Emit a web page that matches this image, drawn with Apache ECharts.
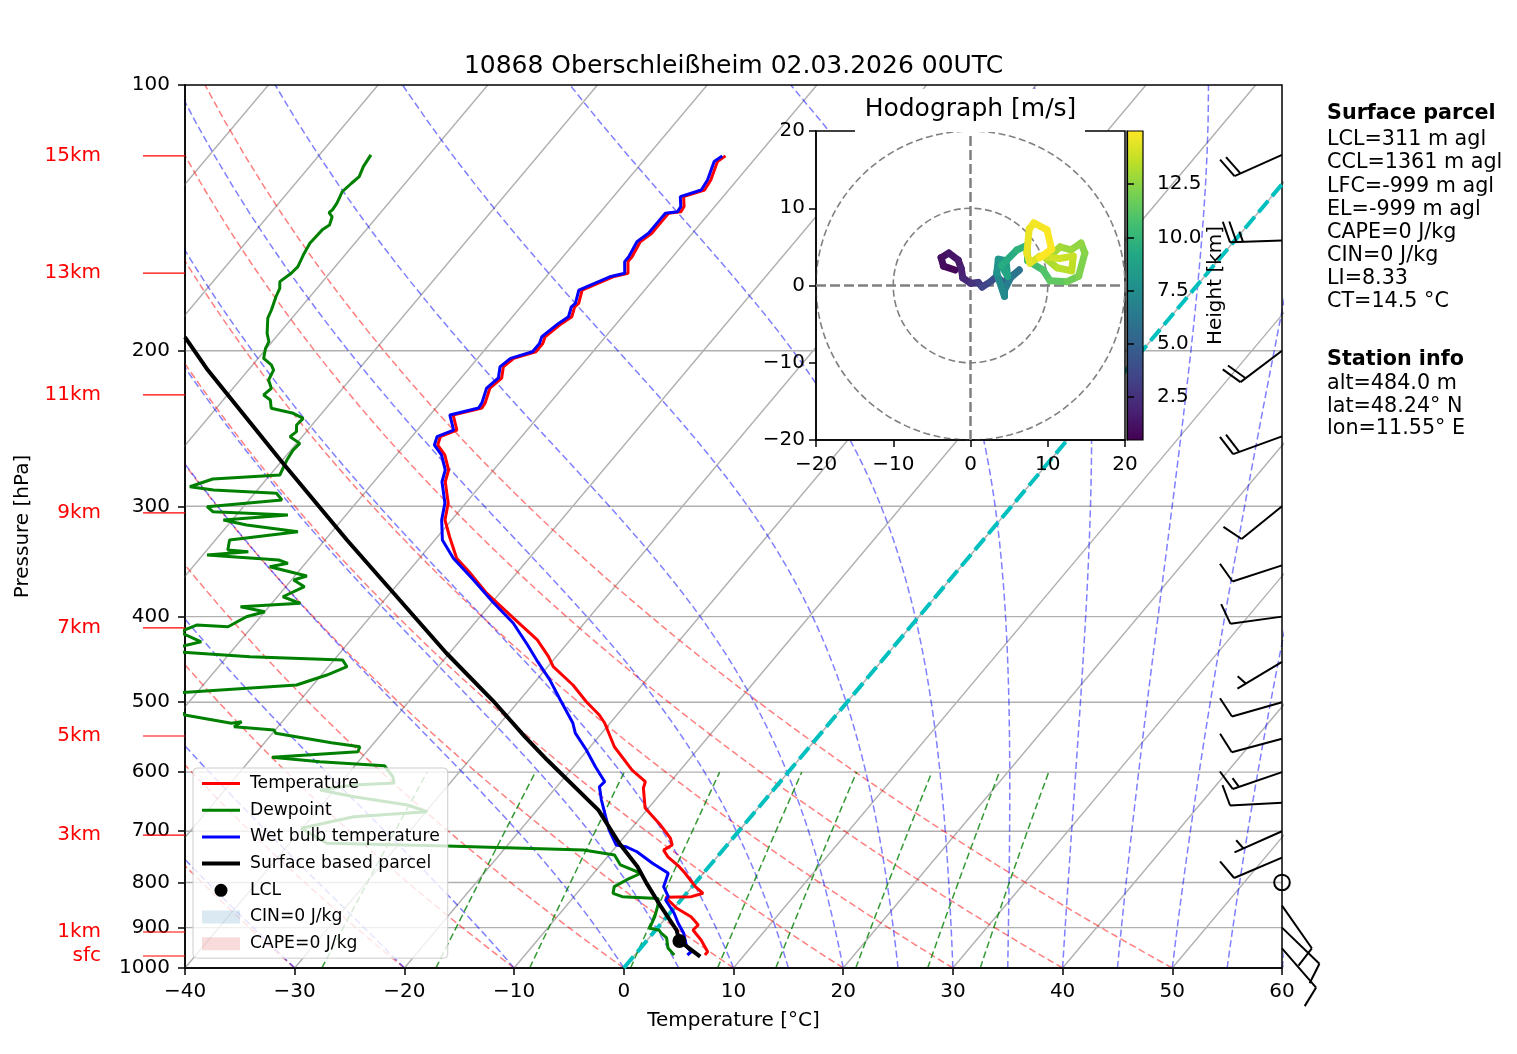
<!DOCTYPE html>
<html>
<head>
<meta charset="utf-8">
<script src="https://cdn.jsdelivr.net/npm/echarts@6/dist/echarts.min.js"></script>
<style>
html, body { margin: 0; padding: 0; background: #fff; }
#chart { width: 1517px; height: 1054px; }
</style>
</head>
<body>
<div id="chart"></div>
<script>
// sounding 10868 Oberschleissheim (hPa / degC)
var tempP = [120.3,122.1,128.1,131.5,133.8,137.3,139.2,139.7,142.8,147.2,150.5,156.5,158.5,163.4,164.9,170.7,176.7,178.3,183.0,186.2,192.8,196.2,200.5,204.0,208.6,214.7,220.4,229.1,232.2,236.4,245.9,250.2,255.7,262.4,272.9,281.4,297.5,310.9,324.8,343.6,357.3,376.3,401.8,425.1,444.0,455.8,478.1,499.4,517.0,527.9,561.6,596.8,615.2,625.3,659.0,688.8,712.6,725.7,735.3,748.2,767.9,780.6,808.9,823.0,830.2,831.6,855.1,874.8,893.9,905.7,929.6,958.5,966.7];
var tempT = [-52.9,-53.2,-52.4,-52.2,-53.6,-52.8,-52.7,-53.7,-53.7,-53.7,-54.1,-53.7,-53.7,-52.8,-53.9,-55.7,-55.0,-55.1,-54.6,-55.0,-55.5,-55.2,-55.2,-56.7,-57.0,-56.3,-56.6,-55.9,-55.8,-57.9,-56.4,-57.4,-57.0,-55.6,-54.1,-53.5,-51.6,-50.6,-48.9,-46.6,-44.2,-41.2,-36.8,-33.0,-30.7,-29.5,-26.3,-23.8,-21.6,-20.5,-17.8,-14.4,-12.3,-12.0,-10.3,-7.6,-5.7,-5.0,-5.4,-4.5,-2.7,-1.7,0.3,1.5,0.7,-1.6,0.2,2.2,3.5,3.4,4.9,6.4,6.4];

var wetP = [120.3,122.1,128.1,131.5,133.8,137.3,139.2,139.7,142.8,147.2,150.5,156.5,158.5,163.4,164.9,170.7,176.7,178.3,183.0,186.2,192.8,196.2,200.5,204.0,208.6,214.7,220.4,229.1,232.2,236.4,245.9,250.2,255.7,262.4,272.9,281.4,297.5,310.9,327.6,343.6,363.6,384.8,406.7,430.7,449.9,471.8,497.2,527.9,542.0,566.4,591.6,615.2,623.3,645.3,671.1,697.8,725.7,728.9,738.5,761.1,781.1,808.9,830.2,837.5,867.0,889.2,913.4,946.0,958.5,966.7];
var wetT = [-53.2,-53.5,-52.7,-52.5,-53.9,-53.1,-53.0,-54.0,-54.0,-54.0,-54.4,-54.0,-54.0,-53.1,-54.2,-56.0,-55.3,-55.4,-54.9,-55.3,-55.8,-55.5,-55.5,-57.0,-57.3,-56.6,-56.9,-56.2,-56.1,-58.2,-56.7,-57.7,-57.3,-55.9,-54.4,-53.8,-51.9,-50.9,-49.3,-46.9,-43.4,-40.0,-36.5,-33.5,-31.3,-28.8,-26.3,-23.4,-22.4,-20.1,-18.0,-16.0,-16.1,-14.9,-13.4,-11.9,-10.1,-9.1,-7.7,-5.4,-3.2,-2.6,-1.4,-1.4,0.4,1.5,2.8,4.1,4.9,4.8];

var dewP = [120.0,123.7,127.0,129.2,132.1,136.1,138.5,139.5,141.0,144.1,145.9,151.1,155.8,160.6,163.4,167.0,169.9,173.7,179.8,183.7,191.1,195.3,198.7,204.0,207.5,210.3,215.8,220.6,224.4,227.4,232.3,235.4,238.5,242.7,246.9,250.2,254.6,259.1,265.9,276.5,279.4,285.1,287.5,290.0,295.1,300.3,304.2,306.9,310.9,315.0,320.6,327.6,336.2,337.7,340.7,345.1,348.1,351.2,359.8,363.6,370.0,379.8,386.4,389.8,394.9,400.1,410.7,408.9,416.5,427.1,433.1,438.7,444.0,448.0,455.8,465.8,478.1,488.2,503.8,517.0,528.3,526.0,533.0,537.6,542.3,555.7,561.6,568.9,577.3,584.0,590.1,607.3,617.3,620.6,628.6,639.7,653.7,665.3,674.1,694.7,722.5,727.5,735.3,744.7,764.3,781.1,794.9,808.9,823.0,830.2,834.0,848.8,874.8,901.6,905.7,912.6,924.6,949.3,966.7];
var dewT = [-85.3,-85.1,-84.7,-84.9,-85.1,-84.7,-84.6,-84.7,-84.1,-83.7,-84.0,-84.1,-83.8,-83.4,-83.5,-83.9,-83.4,-83.1,-82.5,-82.2,-81.1,-80.3,-80.1,-79.5,-78.3,-77.7,-77.4,-76.5,-76.7,-75.7,-75.0,-72.6,-71.3,-71.4,-70.9,-71.1,-69.7,-69.8,-69.6,-69.1,-74.9,-76.4,-74.0,-68.0,-67.0,-73.3,-72.4,-65.3,-70.8,-68.3,-63.1,-68.7,-68.1,-66.1,-69.6,-62.7,-61.6,-63.0,-58.9,-59.8,-58.3,-59.5,-57.4,-62.6,-60.0,-61.3,-62.2,-65.2,-66.2,-63.5,-65.2,-64.7,-57.9,-49.2,-48.3,-49.5,-51.5,-62.0,-61.3,-59.4,-54.5,-53.7,-54.0,-50.1,-49.7,-43.9,-41.0,-40.8,-48.2,-43.5,-37.3,-35.7,-35.1,-38.6,-41.3,-37.7,-32.2,-29.9,-36.2,-40.1,-36.6,-25.5,-12.7,-9.5,-8.2,-5.7,-6.5,-7.1,-6.7,-5.6,-2.2,-1.7,-1.1,-0.7,0.3,0.7,1.6,2.5,3.6];

var parcelP = [193.0,210.3,265.9,327.6,376.1,439.8,497.2,547.3,581.4,662.5,721.8,767.9,801.9,852.3,905.7,931.9,970.9];
var parcelT = [-88.3,-83.7,-70.2,-58.0,-49.7,-40.3,-32.5,-26.7,-22.9,-14.4,-10.0,-6.5,-4.4,-1.3,1.9,3.0,6.1];

var lclP = [931.9];
var lclT = [3.0];

// wind barbs: pressure, direction (deg, from), speed (kt)
var barbP = [120,150,200,250,300,350,400,450,500,550,600,650,700,750,800,850,900,950];
var barbDir = [246,268,233,250,231,252,262,239,254,255,251,267,246,247,0,145,134,139];
var barbSpd = [20,25,20,20,10,10,10,5,10,10,15,10,5,10,0,10,10,10];

// height marks on the left
var heightLbl = ['15km','13km','11km','9km','7km','5km','3km','1km','sfc'];
var heightP = [120.3,163.3,224.4,305.2,412.0,546.1,707.0,910.4,969.2];

// hodograph (m/s) with height (km)
var hodoU = [-2.0,-3.5,-3.8,-2.8,-1.6,-1.2,-1.0,0.0,1.0,1.5,2.6,3.4,4.2,5.6,6.3,5.2,4.4,4.4,3.4,3.6,4.6,4.8,4.0,6.0,7.3,7.4,9.4,10.3,12.5,14.0,14.8,14.3,13.0,11.6,9.9,11.2,13.1,13.3,11.5,9.0,7.7,7.3,7.6,8.2,9.9,10.5,9.0];
var hodoV = [2.0,2.5,3.6,4.2,3.3,2.2,1.0,0.3,0.4,-0.2,0.5,1.2,0.4,1.4,2.0,1.0,-0.6,-1.4,1.6,3.4,3.2,1.2,2.6,4.6,5.2,3.2,2.0,0.6,0.5,1.2,4.2,5.5,4.6,5.0,3.4,2.3,1.9,3.8,3.5,3.8,2.9,4.2,7.3,8.1,7.2,4.7,3.6];
var hodoH = [0.5,0.7,0.9,1.1,1.3,1.5,1.8,2.1,2.5,3.0,3.5,4.0,4.5,5.0,5.5,6.0,6.5,6.8,7.3,7.8,8.2,8.6,9.0,9.4,9.8,10.2,10.6,11.0,11.4,11.8,12.2,12.4,12.6,12.8,13.0,13.2,13.4,13.6,13.8,14.0,14.2,14.4,14.6,14.7,14.8,14.9,15.0];
var cbTicks = [2.5,5,7.5,10,12.5];

// diagram background
var pTicks = [100,200,300,400,500,600,700,800,900,1000];
var isoT = [-100,-90,-80,-70,-60,-50,-40,-30,-20,-10,0,10,20,30,40,50,60];
var dryTheta = [-40,-30,-20,-10,0,10,20,30,40,50];
var moistT0 = [-40,-30,-20,-10,0,5,10,15,20,25,30,35,40,45,50,55,60];
var mixW = [0.0004,0.001,0.002,0.004,0.007,0.01,0.016,0.024,0.032];

var parcelText = ['LCL=311 m agl','CCL=1361 m agl','LFC=-999 m agl','EL=-999 m agl','CAPE=0 J/kg','CIN=0 J/kg','LI=8.33','CT=14.5 \u00b0C'];
var stationText = ['alt=484.0 m','lat=48.24\u00b0 N','lon=11.55\u00b0 E'];

var viridis = ['#440154','#482475','#414487','#355f8d','#2a788e','#21918c','#22a884','#44bf70','#7ad151','#bddf26','#fde725'];

var SKEW = 67.6; // x shift per decade of pressure
function skewX(t, p) { return t + SKEW * Math.log10(1000 / p); }
function profile(ps, ts) {
    return ps.map(function (p, i) { return [skewX(ts[i], p), p]; });
}
function minus(v) { return String(v).replace('-', '\u2212'); }

var pLevels = [];
for (var pp = 1000; pp >= 100; pp -= 10) pLevels.push(pp);
var mixLevels = pLevels.filter(function (p) { return p >= 600; });

function dryLine(th) {
    return pLevels.map(function (p) {
        return [skewX((th + 273.15) * Math.pow(p / 1000, 0.28571) - 273.15, p), p];
    });
}
function moistLine(t0) {
    var Rd = 287.04749, Lv = 2.50084e6, Cp = 1004.6662, eps = 0.6219569;
    function dtdp(p, T) {
        var es = 6.112 * Math.exp(17.67 * (T - 273.15) / (T - 29.65));
        var rs = eps * es / (p - es);
        return (Rd * T + Lv * rs) / (Cp + Lv * Lv * rs * eps / (Rd * T * T)) / p;
    }
    var out = [], T = t0 + 273.15;
    for (var i = 0; i < pLevels.length; i++) {
        var p = pLevels[i];
        out.push([skewX(T - 273.15, p), p]);
        if (i < pLevels.length - 1) {
            var h = pLevels[i + 1] - p;
            var k1 = dtdp(p, T), k2 = dtdp(p + h / 2, T + h / 2 * k1);
            var k3 = dtdp(p + h / 2, T + h / 2 * k2), k4 = dtdp(p + h, T + h * k3);
            T += h / 6 * (k1 + 2 * k2 + 2 * k3 + k4);
        }
    }
    return out;
}
function mixLine(w) {
    return mixLevels.map(function (p) {
        var e = p * w / (0.6219569 + w);
        var v = Math.log(e / 6.112);
        return [skewX(243.5 * v / (17.67 - v), p), p];
    });
}

function bg(data, color, width, type, z) {
    return {
        type: 'line', xAxisIndex: 0, yAxisIndex: 0, data: data, symbol: 'none',
        silent: true, clip: true, z: z || 1,
        lineStyle: { color: color, width: width, type: type }
    };
}

var series = [];
pTicks.slice(1, -1).forEach(function (p) {
    series.push(bg([[-40, p], [60, p]], '#b0b0b0', 1.4, 'solid'));
});
isoT.forEach(function (t) {
    series.push(bg([[skewX(t, 1000), 1000], [skewX(t, 100), 100]], '#b0b0b0', 1.4, 'solid'));
});
dryTheta.forEach(function (th) {
    series.push(bg(dryLine(th), 'rgba(255,0,0,0.5)', 1.5, [7, 3.5]));
});
moistT0.forEach(function (t) {
    series.push(bg(moistLine(t), 'rgba(0,0,255,0.5)', 1.5, [7, 3.5]));
});
mixW.forEach(function (w) {
    series.push(bg(mixLine(w), 'rgba(0,128,0,0.8)', 1.5, [7, 3.5]));
});
series.push(bg([[skewX(0, 1000), 1000], [skewX(0, 100), 100]], '#00bfbf', 4, [15, 6], 2));

function prof(name, data, color, width) {
    return {
        name: name, type: 'line', xAxisIndex: 0, yAxisIndex: 0, data: data,
        symbol: 'none', silent: true, clip: true, z: 3,
        color: color, lineStyle: { color: color, width: width }
    };
}
series.push(prof('Temperature', profile(tempP, tempT), '#ff0000', 3));
series.push(prof('Dewpoint', profile(dewP, dewT), '#008000', 3));
series.push(prof('Wet bulb temperature', profile(wetP, wetT), '#0000ff', 3));
series.push(prof('Surface based parcel', profile(parcelP, parcelT), '#000000', 4));
series.push({
    name: 'LCL', type: 'scatter', xAxisIndex: 0, yAxisIndex: 0, data: profile(lclP, lclT),
    symbol: 'circle', symbolSize: 14, itemStyle: { color: '#000', opacity: 1 }, silent: true, z: 3
});
series.push({ name: 'CIN=0 J/kg', type: 'scatter', xAxisIndex: 0, yAxisIndex: 0, data: [], itemStyle: { color: 'rgba(31,119,180,0.2)' } });
series.push({ name: 'CAPE=0 J/kg', type: 'scatter', xAxisIndex: 0, yAxisIndex: 0, data: [], itemStyle: { color: 'rgba(214,39,40,0.2)' } });

// wind barbs along the right edge
series.push({
    type: 'custom', xAxisIndex: 0, yAxisIndex: 0, silent: true, clip: false, z: 4,
    data: barbP.map(function (p, i) { return [60, p, barbDir[i], barbSpd[i]]; }),
    renderItem: function (params, api) {
        var b = api.coord([api.value(0), api.value(1)]);
        var dir = api.value(2), spd = api.value(3);
        var st = { stroke: '#000', lineWidth: 2, fill: 'none' };
        var L = 52, gap = 0.125 * L;
        if (spd < 2.5) {
            return { type: 'circle', shape: { cx: b[0], cy: b[1], r: 0.15 * L }, style: st };
        }
        var a = dir * Math.PI / 180;
        var sx = Math.sin(a), sy = -Math.cos(a), nx = -sy, ny = sx;
        var tip = [b[0] + L * sx, b[1] + L * sy];
        var kids = [{ type: 'line', shape: { x1: b[0], y1: b[1], x2: tip[0], y2: tip[1] }, style: st }];
        var n = Math.round(spd / 5) * 5, full = Math.floor(n / 10), half = n % 10 >= 5;
        var off = 0;
        for (var k = 0; k < full; k++) {
            var x0 = tip[0] - off * sx, y0 = tip[1] - off * sy;
            kids.push({ type: 'line', shape: { x1: x0, y1: y0, x2: x0 + 0.4 * L * nx + 0.125 * L * sx, y2: y0 + 0.4 * L * ny + 0.125 * L * sy }, style: st });
            off += gap;
        }
        if (half) {
            if (off === 0) off = 1.5 * gap;
            var hx = tip[0] - off * sx, hy = tip[1] - off * sy;
            kids.push({ type: 'line', shape: { x1: hx, y1: hy, x2: hx + 0.2 * L * nx + 0.0625 * L * sx, y2: hy + 0.2 * L * ny + 0.0625 * L * sy }, style: st });
        }
        return { type: 'group', children: kids };
    }
});

// height marks
series.push({
    type: 'custom', xAxisIndex: 0, yAxisIndex: 0, silent: true, clip: false, z: 4,
    data: heightP.map(function (p, i) { return [-40, p, i]; }),
    renderItem: function (params, api) {
        var c = api.coord([api.value(0), api.value(1)]);
        return {
            type: 'group', children: [
                { type: 'line', shape: { x1: c[0] - 42, y1: c[1], x2: c[0], y2: c[1] }, style: { stroke: '#ff0000', lineWidth: 1.2 } },
                { type: 'text', x: c[0] - 84, y: c[1], style: { text: heightLbl[api.value(2)], fill: '#ff0000', font: '20px "DejaVu Sans"', align: 'right', verticalAlign: 'middle' } }
            ]
        };
    }
});

// hodograph
series.push({
    type: 'line', xAxisIndex: 1, yAxisIndex: 1, data: [[-20, 0], [20, 0]], symbol: 'none', silent: true, z: 7,
    lineStyle: { color: '#808080', width: 2.5, type: [10, 4] }
});
series.push({
    type: 'line', xAxisIndex: 1, yAxisIndex: 1, data: [[0, -20], [0, 20]], symbol: 'none', silent: true, z: 7,
    lineStyle: { color: '#808080', width: 2.5, type: [10, 4] }
});
var hodoIndex = series.length;
series.push({
    type: 'custom', xAxisIndex: 1, yAxisIndex: 1, silent: true, z: 8,
    data: hodoU.map(function (u, i) { return [u, hodoV[i], hodoH[i]]; }),
    encode: { x: 0, y: 1 },
    renderItem: function (params, api) {
        var i = params.dataIndex;
        if (i === 0) return;
        var a = api.coord([hodoU[i - 1], hodoV[i - 1]]);
        var b = api.coord([api.value(0), api.value(1)]);
        return { type: 'line', shape: { x1: a[0], y1: a[1], x2: b[0], y2: b[1] }, style: { stroke: api.visual('color'), lineWidth: 7, lineCap: 'round' } };
    }
});
// colorbar
series.push({
    type: 'custom', xAxisIndex: 2, yAxisIndex: 2, silent: true, z: 8,
    data: [[0, 0.48]],
    renderItem: function (params, api) {
        var top = api.coord([0, 15]), bot = api.coord([1, 0.48]);
        return {
            type: 'rect', shape: { x: top[0], y: top[1], width: bot[0] - top[0], height: bot[1] - top[1] },
            style: { fill: new echarts.graphic.LinearGradient(0, 1, 0, 0, viridis.map(function (c, k) { return { offset: k / (viridis.length - 1), color: c }; })) }
        };
    }
});

var axisBlack = { onZero: false, lineStyle: { color: '#000', width: 1.5 } };
var tickBlack = { inside: false, length: 7, lineStyle: { color: '#000', width: 1.5 } };
var lbl = { fontSize: 20, color: '#000', fontFamily: 'DejaVu Sans' };
var txt = '20.7px "DejaVu Sans"';

var graphics = [
    { type: 'text', x: 733.5, y: 66, z: 20, style: { text: '10868 Oberschlei\u00dfheim 02.03.2026 00UTC', font: '25px "DejaVu Sans"', fill: '#000', align: 'center', verticalAlign: 'middle' } },
    { type: 'rect', shape: { x: 855, y: 89, width: 230, height: 43 }, z: 20, style: { fill: '#fff' } },
    { type: 'text', x: 970.5, y: 109, z: 21, style: { text: 'Hodograph [m/s]', font: '25px "DejaVu Sans"', fill: '#000', align: 'center', verticalAlign: 'middle' } },
    { type: 'text', x: 1327, y: 114, z: 20, style: { text: 'Surface parcel', font: 'bold ' + txt, fill: '#000', verticalAlign: 'middle' } },
    { type: 'text', x: 1327, y: 360, z: 20, style: { text: 'Station info', font: 'bold ' + txt, fill: '#000', verticalAlign: 'middle' } }
];
parcelText.forEach(function (t, i) {
    graphics.push({ type: 'text', x: 1327, y: 140 + i * 23.1, z: 20, style: { text: t, font: txt, fill: '#000', verticalAlign: 'middle' } });
});
stationText.forEach(function (t, i) {
    graphics.push({ type: 'text', x: 1327, y: 383.5 + i * 22.8, z: 20, style: { text: t, font: txt, fill: '#000', verticalAlign: 'middle' } });
});

var noDot = { opacity: 0 };
var option = {
    animation: false,
    backgroundColor: '#fff',
    textStyle: { fontFamily: 'DejaVu Sans' },
    grid: [
        { left: 185, top: 85, width: 1097, height: 883, show: true, borderColor: '#000', borderWidth: 1.5, z: 2 },
        { left: 816, top: 131, width: 309, height: 309, show: true, backgroundColor: '#fff', borderColor: '#000', borderWidth: 1.5, z: 5 },
        { left: 1127, top: 131, width: 16, height: 309, show: true, borderColor: '#000', borderWidth: 1.2, z: 9 }
    ],
    xAxis: [
        {
            gridIndex: 0, type: 'value', min: -40, max: 60, interval: 10,
            axisLine: axisBlack, axisTick: tickBlack, splitLine: { show: false },
            axisLabel: Object.assign({ margin: 14, formatter: minus }, lbl),
            name: 'Temperature [\u00b0C]', nameLocation: 'middle', nameGap: 43,
            nameTextStyle: { fontSize: 20, color: '#000' }
        },
        {
            gridIndex: 1, type: 'value', min: -20, max: 20, interval: 10, z: 6,
            axisLine: axisBlack, axisTick: tickBlack, splitLine: { show: false },
            axisLabel: Object.assign({ margin: 15, formatter: minus }, lbl)
        },
        { gridIndex: 2, type: 'value', min: 0, max: 1, show: false }
    ],
    yAxis: [
        {
            gridIndex: 0, type: 'log', logBase: 10, min: 100, max: 1000, inverse: true,
            axisLine: axisBlack, splitLine: { show: false },
            axisTick: Object.assign({ customValues: pTicks }, tickBlack),
            axisLabel: Object.assign({ margin: 15, customValues: pTicks, formatter: function (v) { return String(Math.round(v)); } }, lbl),
            name: 'Pressure [hPa]', nameLocation: 'middle', nameGap: 152, nameRotate: 90,
            nameTextStyle: { fontSize: 20, color: '#000' }
        },
        {
            gridIndex: 1, type: 'value', min: -20, max: 20, interval: 10, z: 6,
            axisLine: axisBlack, axisTick: tickBlack, splitLine: { show: false },
            axisLabel: Object.assign({ margin: 11, formatter: minus }, lbl)
        },
        {
            gridIndex: 2, type: 'value', min: 0.48, max: 15, position: 'right', z: 9,
            axisLine: { show: true, lineStyle: { color: '#000', width: 1.2 } },
            axisTick: Object.assign({ customValues: cbTicks }, tickBlack),
            axisLabel: Object.assign({ margin: 14, customValues: cbTicks, formatter: function (v) { return v.toFixed(1); } }, lbl),
            splitLine: { show: false },
            name: 'Height [km]', nameLocation: 'middle', nameGap: 57, nameRotate: 90,
            nameTextStyle: { fontSize: 20, color: '#000' }
        }
    ],
    polar: { center: [970.5, 285.5], radius: 154.5, z: 6 },
    angleAxis: { show: false, z: 6 },
    radiusAxis: {
        min: 0, max: 20, interval: 10, z: 6,
        axisLine: { show: false }, axisTick: { show: false }, axisLabel: { show: false },
        splitLine: { show: true, lineStyle: { color: '#808080', width: 1.6, type: [7, 3.5] } }
    },
    visualMap: {
        type: 'continuous', show: false, seriesIndex: hodoIndex, dimension: 2,
        min: 0.48, max: 15, inRange: { color: viridis }
    },
    legend: {
        data: [
            { name: 'Temperature', itemStyle: noDot, lineStyle: { width: 3 } },
            { name: 'Dewpoint', itemStyle: noDot, lineStyle: { width: 3 } },
            { name: 'Wet bulb temperature', itemStyle: noDot, lineStyle: { width: 3 } },
            { name: 'Surface based parcel', itemStyle: noDot, lineStyle: { width: 4 } },
            { name: 'LCL', icon: 'circle', itemStyle: { color: '#000', opacity: 1 } },
            { name: 'CIN=0 J/kg', icon: 'rect' },
            { name: 'CAPE=0 J/kg', icon: 'rect' }
        ],
        orient: 'vertical', left: 193, top: 768, itemWidth: 38, itemHeight: 13, itemGap: 9.7,
        selectedMode: false, z: 6,
        backgroundColor: 'rgba(255,255,255,0.8)', borderColor: '#cccccc', borderWidth: 1, borderRadius: 4,
        padding: [7, 8, 6, 7],
        textStyle: { fontSize: 17.2, color: '#000', fontFamily: 'DejaVu Sans', padding: [0, 0, 0, 5] }
    },
    graphic: graphics,
    series: series
};

var chart = echarts.init(document.getElementById('chart'));
chart.setOption(option);
</script>
</body>
</html>
